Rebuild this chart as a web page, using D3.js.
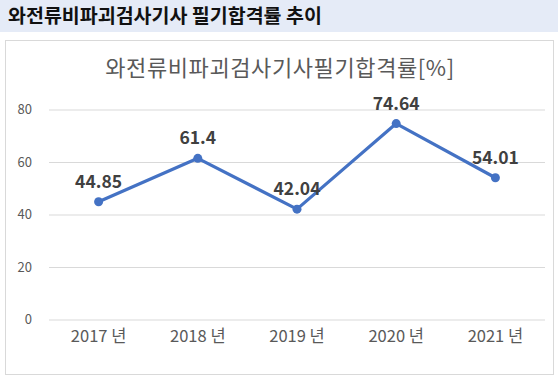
<!DOCTYPE html>
<html>
<head>
<meta charset="utf-8">
<script src="https://cdn.jsdelivr.net/npm/d3@7"></script>
<style>
  body { margin: 0; background: #fff; }
  svg { display: block; font-family: "Noto Sans CJK KR", "Noto Sans", sans-serif; }
</style>
</head>
<body>
<svg id="chart" width="558" height="382"></svg>
<script>
// chart values
const years = ["2017 년", "2018 년", "2019 년", "2020 년", "2021 년"];
const passRates = [44.85, 61.4, 42.04, 74.64, 54.01];
const yTicks = [0, 20, 40, 60, 80];

const pageTitle = "와전류비파괴검사기사 필기합격률 추이";
const chartTitle = "와전류비파괴검사기사필기합격률[%]";

const svg = d3.select("#chart");

// header band
svg.append("rect")
  .attr("x", 0).attr("y", 0)
  .attr("width", 558).attr("height", 32)
  .attr("fill", "#e5ebf7");

svg.append("text")
  .attr("x", 8).attr("y", 23)
  .attr("font-size", 19.5)
  .attr("font-weight", "bold")
  .attr("fill", "#111")
  .text(pageTitle);

// chart frame
svg.append("rect")
  .attr("x", 5.5).attr("y", 40.5)
  .attr("width", 548).attr("height", 334)
  .attr("fill", "#fff")
  .attr("stroke", "#d9d9d9");

svg.append("text")
  .attr("x", 280).attr("y", 76)
  .attr("text-anchor", "middle")
  .attr("font-size", 22)
  .attr("letter-spacing", 0.6)
  .attr("fill", "#595959")
  .text(chartTitle);

const x = d3.scaleBand().domain(years).range([49, 545]);
const y = d3.scaleLinear().domain([0, 80]).range([319.5, 109.5]);

// grid + y labels
const yAxis = svg.append("g")
  .attr("transform", "translate(49,0)")
  .call(d3.axisLeft(y).tickValues(yTicks).tickSize(-496).tickPadding(17));
yAxis.select(".domain").remove();
yAxis.selectAll(".tick line").attr("stroke", "#d9d9d9");
yAxis.selectAll(".tick text")
  .attr("fill", "#595959")
  .attr("font-size", 13)
  .attr("font-family", "'Noto Sans CJK KR', sans-serif");

// x labels
const xAxis = svg.append("g")
  .attr("transform", "translate(0,319.5)")
  .call(d3.axisBottom(x).tickSize(0).tickPadding(11));
xAxis.select(".domain").remove();
xAxis.selectAll(".tick text")
  .attr("fill", "#595959")
  .attr("font-size", 16.5)
  .attr("font-family", "'Noto Sans CJK KR', sans-serif");

const cx = (d, i) => x(years[i]) + x.bandwidth() / 2;

const line = d3.line()
  .x((d, i) => cx(d, i))
  .y(d => y(d));

svg.append("path")
  .datum(passRates)
  .attr("d", line)
  .attr("fill", "none")
  .attr("stroke", "#4472c4")
  .attr("stroke-width", 3.2)
  .attr("stroke-linejoin", "round");

svg.selectAll("circle.pt")
  .data(passRates)
  .enter()
  .append("circle")
  .attr("class", "pt")
  .attr("cx", cx)
  .attr("cy", d => y(d))
  .attr("r", 4.5)
  .attr("fill", "#4472c4");

svg.selectAll("text.val")
  .data(passRates)
  .enter()
  .append("text")
  .attr("class", "val")
  .attr("x", cx)
  .attr("y", d => y(d) - 14)
  .attr("text-anchor", "middle")
  .attr("font-size", 17.5)
  .attr("font-weight", "bold")
  .attr("fill", "#404040")
  .text(d => d);
</script>
</body>
</html>
